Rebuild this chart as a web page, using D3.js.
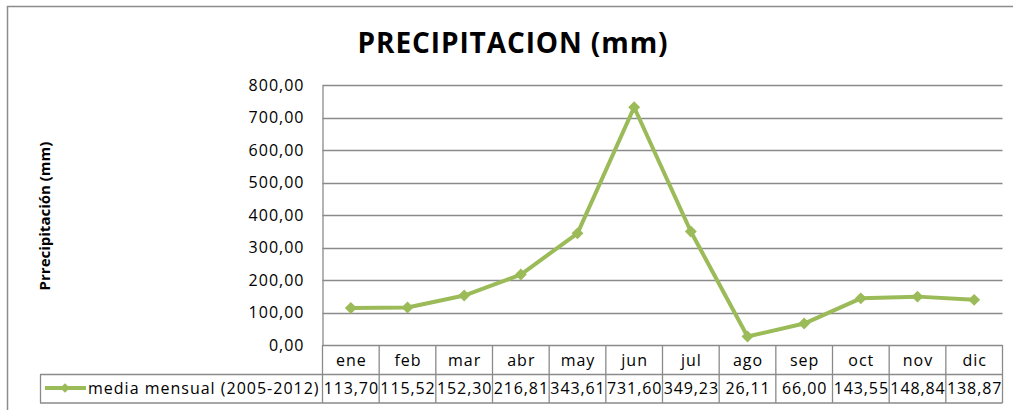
<!DOCTYPE html>
<html><head><meta charset="utf-8">
<script src="https://cdn.jsdelivr.net/npm/d3@7"></script>
<style>body{margin:0;background:#fff}svg{display:block}text{font-family:"Open Sans",sans-serif}</style>
</head><body><svg width="1013" height="410"></svg>
<script>
const months = ["ene","feb","mar","abr","may","jun","jul","ago","sep","oct","nov","dic"];
const values = [113.70,115.52,152.30,216.81,343.61,731.60,349.23,26.11,66.00,143.55,148.84,138.87];
const yTicks = [0,100,200,300,400,500,600,700,800];
const seriesName = "media mensual (2005-2012)";
const title = "PRECIPITACION (mm)";
const yTitle = "Prrecipitación (mm)";

const svg = d3.select("svg");
const L = 322.5, R = 1002.5, T = 85, B = 345;
const fmt = v => v.toFixed(2).replace(".", ",");
const x = d3.scaleBand().domain(months).range([L, R]);
const y = d3.scaleLinear().domain([0, 800]).range([B, T]);
const grid = "#8a8a8a";
const green = "#9BBB59";

// outer frame
svg.append("rect").attr("x",7.5).attr("y",6.5).attr("width",1010).attr("height",420)
  .attr("fill","none").attr("stroke","#8c8c8c").attr("stroke-width",1.5);

svg.append("text").attr("x",513).attr("y",53).attr("text-anchor","middle")
  .attr("font-size",28).attr("font-weight","bold").attr("fill","#000")
  .style("letter-spacing","0.9px").text(title);

// gridlines
svg.append("g").selectAll("line").data(yTicks.filter(d=>d>0)).join("line")
  .attr("x1",L).attr("x2",R).attr("y1",d=>Math.round(y(d))+0.5).attr("y2",d=>Math.round(y(d))+0.5)
  .attr("stroke",grid).attr("stroke-width",1.3);

// y axis
const yAxis = d3.axisLeft(y).tickValues(yTicks).tickFormat(fmt).tickSize(0).tickPadding(18);
const ga = svg.append("g").attr("transform",`translate(${L},0)`).call(yAxis);
ga.select(".domain").attr("stroke",grid).attr("stroke-width",1.3);
ga.selectAll("text").attr("font-size",16).attr("fill","#000").attr("font-family","Open Sans")
  .style("letter-spacing","1px");

svg.append("text").attr("transform","translate(50,216) rotate(-90)").attr("text-anchor","middle")
  .attr("font-size",15).attr("font-weight","bold").attr("fill","#000").text(yTitle);

// table
const tb = svg.append("g");
const rowH = [345, 374.5, 403];
tb.append("line").attr("x1",L).attr("x2",R).attr("y1",rowH[0]+0.5).attr("y2",rowH[0]+0.5).attr("stroke",grid).attr("stroke-width",1.3);
tb.append("line").attr("x1",40).attr("x2",R).attr("y1",rowH[1]).attr("y2",rowH[1]).attr("stroke",grid).attr("stroke-width",1.3);
tb.append("line").attr("x1",40).attr("x2",R).attr("y1",rowH[2]).attr("y2",rowH[2]).attr("stroke",grid).attr("stroke-width",1.3);
tb.append("line").attr("x1",40.5).attr("x2",40.5).attr("y1",rowH[1]).attr("y2",rowH[2]).attr("stroke",grid).attr("stroke-width",1.3);
const bounds = months.map(m=>x(m)).concat([R]);
tb.selectAll(".vb").data(bounds).join("line").attr("class","vb")
  .attr("x1",d=>d).attr("x2",d=>d).attr("y1",rowH[0]).attr("y2",rowH[2]).attr("stroke",grid).attr("stroke-width",1.3);
tb.selectAll(".mt").data(months).join("text").attr("class","mt")
  .attr("x",d=>x(d)+x.bandwidth()/2+0.5).attr("y",366).attr("text-anchor","middle")
  .attr("font-size",16).attr("fill","#000").style("letter-spacing","1px").text(d=>d);
tb.selectAll(".vt").data(values).join("text").attr("class","vt")
  .attr("x",(d,i)=>x(months[i])+x.bandwidth()/2+0.5).attr("y",394).attr("text-anchor","middle")
  .attr("font-size",16).attr("fill","#000").style("letter-spacing","0.9px").text(fmt);

// legend key
tb.append("line").attr("x1",45).attr("x2",86).attr("y1",388).attr("y2",388).attr("stroke",green).attr("stroke-width",4);
tb.append("path").attr("d",d3.symbol(d3.symbolDiamond2,60)()).attr("transform","translate(65,388)").attr("fill",green);
tb.append("text").attr("x",88).attr("y",394).attr("font-size",16).attr("fill","#000")
  .style("letter-spacing","1px").text(seriesName);

// line
const pts = values.map((v,i)=>[x(months[i])+x.bandwidth()/2, y(v)]);
svg.append("path").attr("d",d3.line()(pts)).attr("fill","none").attr("stroke",green).attr("stroke-width",4).attr("stroke-linejoin","round");
svg.selectAll(".mk").data(pts).join("path").attr("class","mk")
  .attr("d",d3.symbol(d3.symbolDiamond2,90)()).attr("transform",d=>`translate(${d[0]},${d[1]})`).attr("fill",green);
</script></body></html>
